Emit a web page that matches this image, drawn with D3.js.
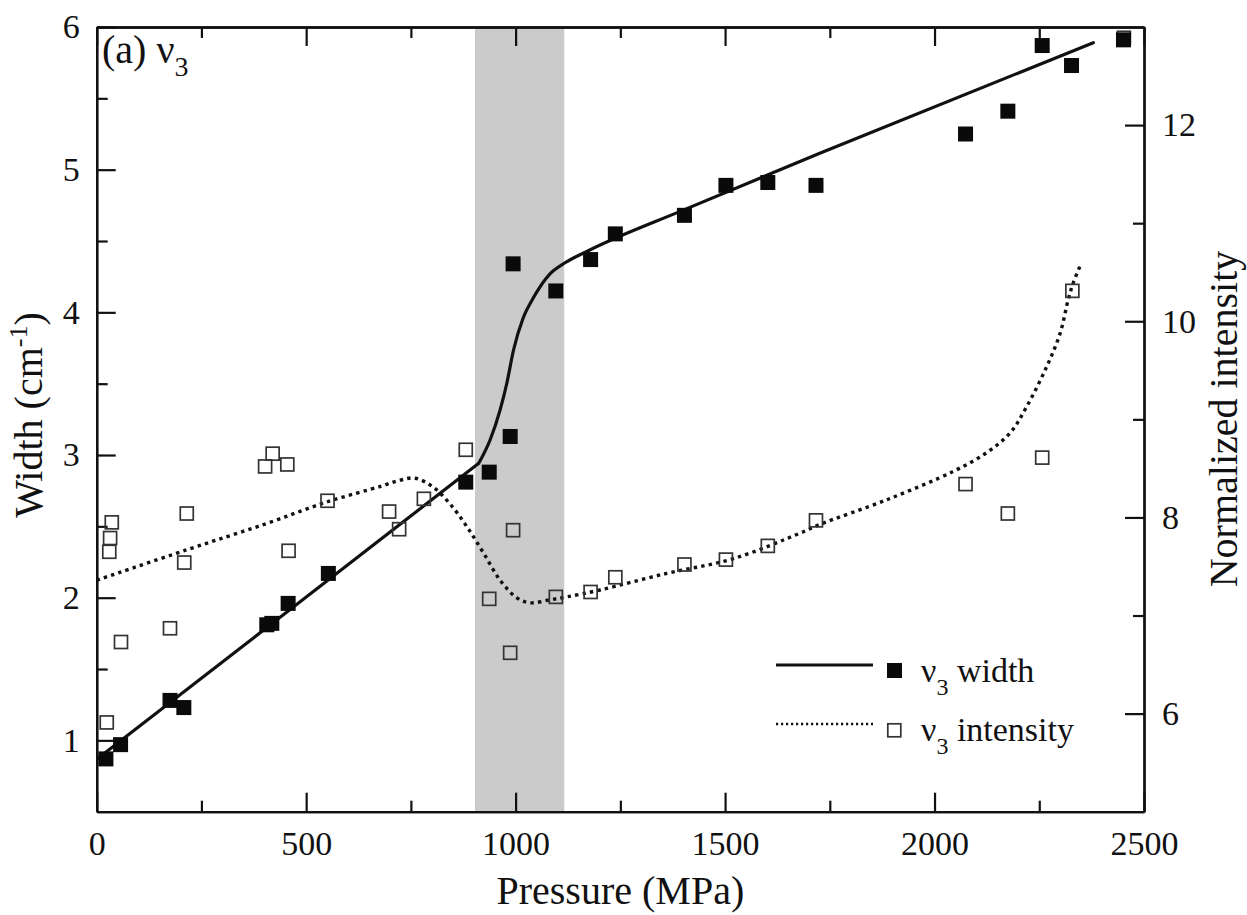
<!DOCTYPE html>
<html>
<head>
<meta charset="utf-8">
<script src="https://cdn.jsdelivr.net/npm/d3@7"></script>
<style>
  html, body { margin: 0; padding: 0; background: #fff; }
  svg { display: block; }
</style>
</head>
<body>
<svg id="chart" width="1247" height="915"></svg>
<script>
const FONT = '"Liberation Serif", "Tinos", "Times New Roman", "DejaVu Serif", "Noto Serif", serif';
// ---------- data ----------
const widthPressure = [22, 57, 175, 208, 406, 418, 457, 553, 881, 937, 987, 994, 1096, 1179, 1238, 1403, 1502, 1602, 1717, 2074, 2175, 2257, 2327, 2451];
const widthValues   = [0.87, 0.97, 1.28, 1.23, 1.81, 1.82, 1.96, 2.17, 2.81, 2.88, 3.13, 4.34, 4.15, 4.37, 4.55, 4.68, 4.89, 4.91, 4.89, 5.25, 5.41, 5.87, 5.73, 5.91];

const intensityPressure = [24, 30, 32, 36, 58, 175, 209, 215, 402, 420, 455, 458, 551, 698, 722, 781, 881, 937, 987, 994, 1096, 1179, 1238, 1403, 1502, 1602, 1717, 2074, 2175, 2257, 2329, 2452];
const intensityValues   = [5.91, 7.65, 7.79, 7.95, 6.73, 6.87, 7.54, 8.04, 8.52, 8.65, 8.54, 7.66, 8.17, 8.06, 7.88, 8.19, 8.69, 7.17, 6.62, 7.87, 7.19, 7.24, 7.39, 7.52, 7.57, 7.71, 7.97, 8.34, 8.04, 8.61, 10.31, 12.89];

// fitted curves (linear part, then transition + linear part)
const widthFitLinearPressure = [0, 912];
const widthFitLinearValues   = [0.867, 2.942];
const widthFitPressure = [912, 939, 963, 979, 995, 1018, 1042, 1082, 1116, 1177, 1403, 1726, 2379];
const widthFitValues   = [2.942, 3.105, 3.316, 3.503, 3.736, 3.96, 4.10, 4.27, 4.344, 4.437, 4.72, 5.115, 5.89];

const intensityFitPressure = [0, 215, 400, 551, 680, 724, 760, 803, 843, 883, 923, 963, 1003, 1034, 1082, 1122, 1201, 1361, 1520, 1679, 1727, 1886, 2045, 2124, 2180, 2220, 2268, 2300, 2319, 2331, 2347];
const intensityFitValues   = [7.36, 7.67, 7.93, 8.16, 8.32, 8.38, 8.40, 8.31, 8.14, 7.91, 7.64, 7.36, 7.18, 7.13, 7.16, 7.19, 7.26, 7.43, 7.58, 7.84, 7.93, 8.18, 8.47, 8.66, 8.86, 9.13, 9.54, 9.88, 10.22, 10.39, 10.56];

const transitionBand = [903, 1116];

const xTicks = [0, 500, 1000, 1500, 2000, 2500];
const xMinorTicks = [250, 750, 1250, 1750, 2250];
const yLeftTicks = [1, 2, 3, 4, 5, 6];
const yLeftMinorTicks = [1.5, 2.5, 3.5, 4.5, 5.5];
const yRightTicks = [6, 8, 10, 12];
const yRightMinorTicks = [7, 9, 11];

// ---------- layout ----------
const svg = d3.select("#chart");
const X0 = 96.7, X1 = 1144, Y0 = 27, Y1 = 811.7;

const x = d3.scaleLinear().domain([0, 2500]).range([X0, X1]);
const yL = d3.scaleLinear().domain([0.5, 6]).range([Y1, Y0]);
const yR = d3.scaleLinear().domain([5, 13]).range([Y1, Y0]);

svg.append("rect").attr("width", 1247).attr("height", 915).attr("fill", "#fff");

// shaded band
svg.append("rect")
  .attr("x", x(transitionBand[0]))
  .attr("y", Y0)
  .attr("width", x(transitionBand[1]) - x(transitionBand[0]))
  .attr("height", Y1 - Y0)
  .attr("fill", "#cbcbcb");

// fit lines
const widthLin = d3.line()
  .x((d, i) => x(widthFitLinearPressure[i]))
  .y((d, i) => yL(widthFitLinearValues[i]));
svg.append("path")
  .attr("d", widthLin(widthFitLinearPressure))
  .attr("fill", "none").attr("stroke", "#111").attr("stroke-width", 3.2).attr("stroke-linejoin", "round");
const widthLine = d3.line()
  .x((d, i) => x(widthFitPressure[i]))
  .y((d, i) => yL(widthFitValues[i]))
  .curve(d3.curveMonotoneX);
svg.append("path")
  .attr("d", widthLine(widthFitPressure))
  .attr("fill", "none").attr("stroke", "#111").attr("stroke-width", 3.2).attr("stroke-linecap", "round");

const intLine = d3.line()
  .x((d, i) => x(intensityFitPressure[i]))
  .y((d, i) => yR(intensityFitValues[i]))
  .curve(d3.curveCatmullRom.alpha(0.5));
svg.append("path")
  .attr("d", intLine(intensityFitPressure))
  .attr("fill", "none").attr("stroke", "#111").attr("stroke-width", 3.4)
  .attr("stroke-dasharray", "3.4,4.2");

// ---------- axes ----------
function styleAxis(g) {
  g.attr("font-family", FONT);
  g.selectAll("path.domain").attr("stroke", "#111").attr("stroke-width", 2.3);
  g.selectAll(".tick line").attr("stroke", "#111").attr("stroke-width", 2.2);
  g.selectAll(".tick text").attr("font-size", 34).attr("fill", "#111").attr("font-family", FONT);
}

// bottom
svg.append("g").attr("transform", `translate(0,${Y1})`)
  .call(d3.axisBottom(x).tickValues(xMinorTicks).tickSize(-11).tickSizeOuter(0).tickFormat(""))
  .call(styleAxis);
svg.append("g").attr("transform", `translate(0,${Y1})`)
  .call(d3.axisBottom(x).tickValues(xTicks).tickSize(-19).tickSizeOuter(0).tickPadding(19).tickFormat(d3.format("d")))
  .call(styleAxis);
// top
svg.append("g").attr("transform", `translate(0,${Y0})`)
  .call(d3.axisTop(x).tickValues(xMinorTicks).tickSize(-11).tickSizeOuter(0).tickFormat(""))
  .call(styleAxis);
svg.append("g").attr("transform", `translate(0,${Y0})`)
  .call(d3.axisTop(x).tickValues(xTicks).tickSize(-19).tickSizeOuter(0).tickFormat(""))
  .call(styleAxis);
// left
svg.append("g").attr("transform", `translate(${X0},0)`)
  .call(d3.axisLeft(yL).tickValues(yLeftMinorTicks).tickSize(-11).tickSizeOuter(0).tickFormat(""))
  .call(styleAxis);
svg.append("g").attr("transform", `translate(${X0},0)`)
  .call(d3.axisLeft(yL).tickValues(yLeftTicks).tickSize(-19).tickSizeOuter(0).tickPadding(17).tickFormat(d3.format("d")))
  .call(styleAxis);
// right
svg.append("g").attr("transform", `translate(${X1},0)`)
  .call(d3.axisRight(yR).tickValues(yRightMinorTicks).tickSize(-11).tickSizeOuter(0).tickFormat(""))
  .call(styleAxis);
svg.append("g").attr("transform", `translate(${X1},0)`)
  .call(d3.axisRight(yR).tickValues(yRightTicks).tickSize(-19).tickSizeOuter(0).tickPadding(18).tickFormat(d3.format("d")))
  .call(styleAxis);

// ---------- markers ----------
const openSize = 13, fillSize = 15;
svg.append("g").selectAll("rect")
  .data(intensityPressure)
  .join("rect")
  .attr("x", (d) => x(d) - openSize / 2)
  .attr("y", (d, i) => yR(intensityValues[i]) - openSize / 2)
  .attr("width", openSize).attr("height", openSize)
  .attr("fill", "none").attr("stroke", "#333").attr("stroke-width", 1.7);

svg.append("g").selectAll("rect")
  .data(widthPressure)
  .join("rect")
  .attr("x", (d) => x(d) - fillSize / 2)
  .attr("y", (d, i) => yL(widthValues[i]) - fillSize / 2)
  .attr("width", fillSize).attr("height", fillSize)
  .attr("fill", "#0a0a0a");

// ---------- titles ----------
const T = svg.append("g").attr("font-family", FONT).attr("fill", "#111");
T.append("text")
  .attr("x", (X0 + X1) / 2).attr("y", 904)
  .attr("text-anchor", "middle").attr("font-size", 40)
  .text("Pressure (MPa)");

const lt = T.append("text")
  .attr("transform", `translate(42,415) rotate(-90)`)
  .attr("text-anchor", "middle").attr("font-size", 40);
lt.append("tspan").text("Width (cm");
lt.append("tspan").attr("font-size", 26).attr("dy", -15).text("-1");
lt.append("tspan").attr("dy", 15).text(")");

T.append("text")
  .attr("transform", `translate(1237,419) rotate(-90)`)
  .attr("text-anchor", "middle").attr("font-size", 40)
  .text("Normalized intensity");

// panel label
const pl = T.append("text").attr("x", 102).attr("y", 63).attr("font-size", 40);
pl.append("tspan").text("(a) ν");
pl.append("tspan").attr("font-size", 28).attr("dy", 13).text("3");

// ---------- legend ----------
const legendItems = [
  { label: " width", dash: null, width: 3.2, filled: true, y: 665 },
  { label: " intensity", dash: "2.2,2.8", width: 2.4, filled: false, y: 724 }
];
const lg = svg.append("g").attr("font-family", FONT).attr("fill", "#111");
legendItems.forEach((it) => {
  lg.append("line")
    .attr("x1", 776).attr("x2", 873).attr("y1", it.y).attr("y2", it.y)
    .attr("stroke", "#111").attr("stroke-width", it.width)
    .attr("stroke-dasharray", it.dash);
  if (it.filled) {
    lg.append("rect").attr("x", 887).attr("y", it.y - 2).attr("width", 15).attr("height", 15).attr("fill", "#0a0a0a");
  } else {
    lg.append("rect").attr("x", 887.8).attr("y", it.y - 0.2).attr("width", 13).attr("height", 13)
      .attr("fill", "none").attr("stroke", "#333").attr("stroke-width", 1.7);
  }
  const t = lg.append("text").attr("x", 921).attr("y", it.y + 17).attr("font-size", 34);
  t.append("tspan").text("ν");
  t.append("tspan").attr("font-size", 24).attr("dy", 13).text("3");
  t.append("tspan").attr("dy", -13).text(it.label);
});
</script>
</body>
</html>
